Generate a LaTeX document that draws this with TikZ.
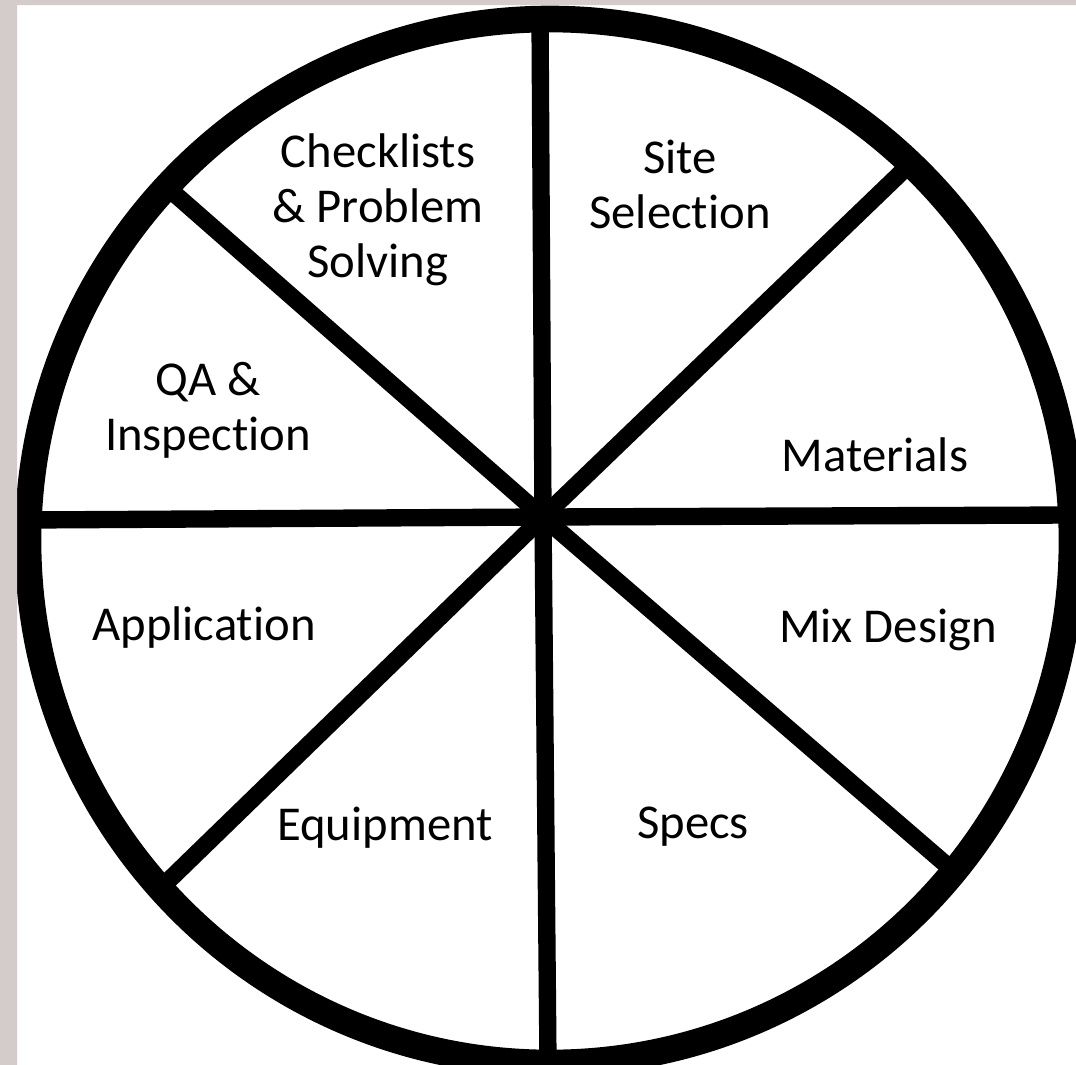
\documentclass[tikz,border=0pt]{standalone}
\usepackage{fontspec}
\setmainfont{Carlito}[Ligatures={NoCommon}]
\begin{document}
\begin{tikzpicture}[x=0.75pt,y=-0.75pt,
  ring/.style={line width=20pt},
  spoke/.style={line width=13pt,line cap=butt},
  lbl/.style={font=\fontsize{36.5pt}{41.25pt}\selectfont,align=center,inner sep=0pt,anchor=base}]
\useasboundingbox (0,0) rectangle (1076,1065);
\clip (0,0) rectangle (1076,1065);
\fill[white] (0,0) rectangle (1076,1065);
% spokes
\coordinate (c) at (543,517);
\coordinate (t) at (540,15);
\coordinate (b) at (548,1062);
\coordinate (l) at (26,520);
\coordinate (r) at (1072,515);
\coordinate (tl) at (168,188);
\coordinate (tr) at (908,166);
\coordinate (br) at (950,868);
\coordinate (bl) at (165,884);
\foreach \e in {t,b,l,r,tl,tr,br,bl} \draw[spoke] (c) -- (\e);
\draw[ring] (550,541) circle[radius=522*0.75pt];
\fill[fill={rgb,255:red,212;green,203;blue,203}] (0,0) rectangle (1076,5) (0,0) rectangle (17,1065);
% labels
\node[lbl] (n1) at (378,277) {Checklists\\\& Problem\\Solving};
\node[lbl] (n2) at (680,228) {Site\\Selection};
\node[lbl] (n3) at (875,471) {Materials};
\node[lbl] (n4) at (208,450) {QA \&\\Inspection};
\node[lbl] (n5) at (204,640) {Application};
\node[lbl] (n6) at (888,642) {Mix Design};
\node[lbl] (n7) at (385,840) {Equipment};
\node[lbl] (n8) at (693,838) {Specs};
\end{tikzpicture}
\end{document}
